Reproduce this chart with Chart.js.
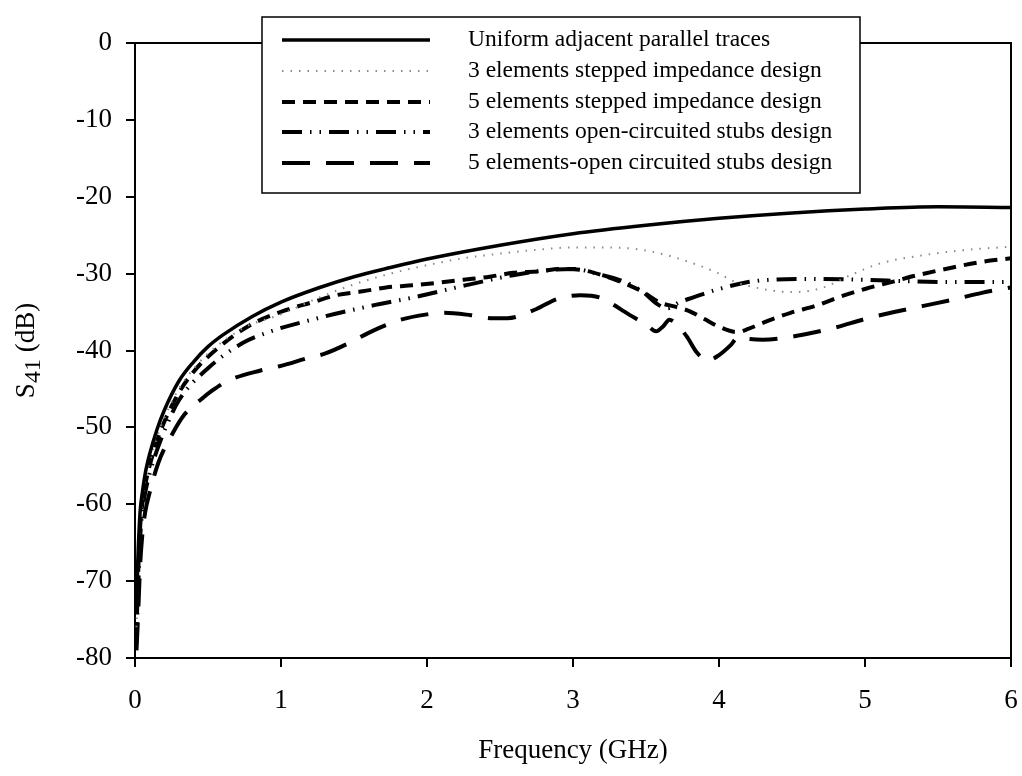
<!DOCTYPE html>
<html>
<head>
<meta charset="utf-8">
<script src="https://cdn.jsdelivr.net/npm/chart.js@4.4.0/dist/chart.umd.min.js"></script>
<style>
  html, body { margin: 0; padding: 0; background: #fff; }
  #wrap { width: 1022px; height: 776px; position: relative; }
</style>
</head>
<body>
<div id="wrap"><canvas id="s41Chart"></canvas></div>
<script>
// valeurs (GHz, dB)
const solidF = [0.01,0.02,0.035,0.05,0.07,0.1,0.15,0.2,0.3,0.4,0.5,0.6,0.8,1.0,1.25,1.5,1.75,2.0,2.5,3.0,3.5,4.0,4.5,5.0,5.5,6.0];
const solidS = [-74,-67,-61,-58.5,-56,-53.5,-50.3,-47.8,-44,-41.5,-39.5,-38,-35.6,-33.7,-31.9,-30.4,-29.2,-28.1,-26.3,-24.8,-23.7,-22.8,-22.1,-21.6,-21.3,-21.4];

const step3F = [0.01,0.02,0.035,0.05,0.07,0.1,0.15,0.2,0.3,0.4,0.5,0.75,1.0,1.25,1.5,1.75,2.0,2.25,2.5,2.75,3.0,3.25,3.5,3.75,4.0,4.1,4.3,4.5,4.7,4.9,5.1,5.4,5.7,6.0];
const step3S = [-76,-69,-62.5,-59.5,-57,-54.5,-51.3,-48.8,-45,-42.4,-40.4,-37,-35.3,-33.2,-31.4,-30,-28.9,-28,-27.4,-26.9,-26.6,-26.6,-27,-28.2,-30,-31,-32,-32.4,-31.9,-30.2,-28.7,-27.6,-26.9,-26.5];

const step5F = [0.01,0.02,0.035,0.05,0.07,0.1,0.15,0.2,0.3,0.4,0.5,0.77,1.04,1.22,1.38,1.56,1.72,1.9,2.07,2.25,2.43,2.59,2.77,2.91,3.05,3.2,3.37,3.48,3.6,3.7,3.8,3.9,4.0,4.12,4.2,4.3,4.49,4.66,4.83,5.0,5.2,5.36,5.6,5.79,6.0];
const step5S = [-77,-70,-63,-60,-57.5,-55,-51.8,-49.3,-45.5,-42.8,-40.8,-36.9,-34.7,-33.7,-32.8,-32.3,-31.8,-31.5,-31.2,-30.8,-30.4,-29.9,-29.7,-29.4,-29.5,-30.2,-31.4,-32.4,-33.8,-34.3,-34.9,-35.9,-36.9,-37.6,-37.2,-36.4,-35.1,-34.2,-33,-32,-31,-30.2,-29.2,-28.5,-28];

const stub3F = [0.01,0.02,0.035,0.05,0.07,0.1,0.15,0.2,0.3,0.5,0.74,0.9,1.25,1.59,1.93,2.27,2.59,2.8,3.0,3.2,3.37,3.48,3.58,3.65,3.72,3.79,3.9,4.0,4.2,4.35,4.6,5.0,5.3,5.6,6.0];
const stub3S = [-78,-72,-64.5,-61,-58.5,-56,-53,-50.5,-46.5,-42.3,-39,-37.7,-35.8,-34.3,-33,-31.5,-30.2,-29.6,-29.4,-30.2,-31.2,-32.4,-34,-34.5,-33.8,-33.3,-32.6,-32,-31.1,-30.8,-30.7,-30.8,-31,-31.1,-31.1];

const stub5F = [0.01,0.02,0.035,0.05,0.07,0.1,0.16,0.26,0.34,0.45,0.53,0.63,0.86,1.0,1.18,1.3,1.49,1.6,1.82,2.0,2.11,2.3,2.45,2.55,2.75,2.89,3.05,3.18,3.39,3.5,3.57,3.62,3.66,3.71,3.78,3.85,3.92,4.0,4.08,4.13,4.2,4.3,4.5,4.64,4.8,5.0,5.2,5.4,5.6,5.8,6.0];
const stub5S = [-79,-75,-68,-64,-61,-58.5,-54.6,-50.7,-48.3,-46.4,-45.2,-44,-42.6,-42,-41,-40.4,-38.8,-37.7,-36,-35.3,-35.1,-35.4,-35.8,-35.8,-34.6,-33.3,-32.8,-33.1,-35.4,-36.6,-37.5,-36.8,-36,-36.6,-38.2,-40.3,-41.3,-40.6,-39.3,-38.3,-38.5,-38.6,-38.2,-37.7,-37,-35.9,-35,-34.2,-33.4,-32.5,-31.8];

const seriesNames = [
  'Uniform adjacent parallel traces',
  '3 elements stepped impedance design',
  '5 elements stepped impedance design',
  '3 elements open-circuited stubs design',
  '5 elements-open circuited stubs design'
];

const xTicks = [0, 1, 2, 3, 4, 5, 6];
const yTicks = [0, -10, -20, -30, -40, -50, -60, -70, -80];

const FONT = "'Liberation Serif', 'Times New Roman', serif";

function toPoints(fs, ss) {
  return fs.map((f, i) => ({ x: f, y: ss[i] }));
}

function makeSet(label, fs, ss, color, width, dash) {
  return {
    label: label,
    data: toPoints(fs, ss),
    borderColor: color,
    borderWidth: width,
    borderDash: dash,
    borderCapStyle: 'butt',
    pointRadius: 0,
    fill: false,
    cubicInterpolationMode: 'monotone'
  };
}

const datasets = [
  makeSet(seriesNames[0], solidF, solidS, '#000', 3.5, []),
  makeSet(seriesNames[1], step3F, step3S, '#8a8a8a', 2, [1.5, 7]),
  makeSet(seriesNames[2], step5F, step5S, '#000', 4, [13, 8]),
  makeSet(seriesNames[3], stub3F, stub3S, '#000', 4, [20, 8, 1.5, 8, 1.5, 8]),
  makeSet(seriesNames[4], stub5F, stub5S, '#000', 4, [28, 16])
];

// cadre + légende + titre Y avec indice
const decorPlugin = {
  id: 'decor',
  afterDatasetsDraw(chart) {
    const c = chart.ctx;
    const a = chart.chartArea;
    c.save();
    c.strokeStyle = '#000';
    c.lineWidth = 2;
    c.beginPath();
    c.moveTo(a.left, a.top);
    c.lineTo(a.right, a.top);
    c.lineTo(a.right, a.bottom);
    c.stroke();
    c.restore();
  },
  afterDraw(chart) {
    const c = chart.ctx;
    const a = chart.chartArea;
    c.save();

    // légende
    const bx = 262, by = 17, bw = 598, bh = 176;
    c.fillStyle = '#fff';
    c.fillRect(bx, by, bw, bh);
    c.strokeStyle = '#000';
    c.lineWidth = 1.5;
    c.strokeRect(bx, by, bw, bh);
    const rows = [40, 71, 102, 132, 163];
    chart.data.datasets.forEach((ds, i) => {
      c.save();
      c.strokeStyle = ds.borderColor;
      c.lineWidth = ds.borderWidth;
      c.setLineDash(ds.borderDash);
      c.lineCap = 'butt';
      c.beginPath();
      c.moveTo(282, rows[i]);
      c.lineTo(430, rows[i]);
      c.stroke();
      c.restore();
      c.fillStyle = '#000';
      c.font = '23.5px ' + FONT;
      c.textBaseline = 'middle';
      c.textAlign = 'left';
      c.fillText(ds.label, 468, rows[i]);
    });

    // titre de l'axe Y : S41 (dB), 41 en indice
    const cx = 27, cy = (a.top + a.bottom) / 2;
    c.translate(cx, cy);
    c.rotate(-Math.PI / 2);
    c.fillStyle = '#000';
    c.textBaseline = 'middle';
    c.textAlign = 'left';
    const big = '27px ' + FONT, small = '24px ' + FONT;
    c.font = big;
    const wS = c.measureText('S').width;
    const wT = c.measureText(' (dB)').width;
    c.font = small;
    const wN = c.measureText('41').width;
    let x0 = -(wS + wN + wT) / 2;
    c.font = big;
    c.fillText('S', x0, 0);
    c.font = small;
    c.fillText('41', x0 + wS, 7);
    c.font = big;
    c.fillText(' (dB)', x0 + wS + wN, 0);
    c.restore();
  }
};

const ctx = document.getElementById('s41Chart').getContext('2d');
const s41Chart = new Chart(ctx, {
  type: 'line',
  data: { datasets: datasets },
  options: {
    responsive: true,
    maintainAspectRatio: false,
    animation: false,
    layout: { padding: { top: 43, right: 11, left: 0, bottom: 0 } },
    plugins: {
      legend: { display: false },
      tooltip: { enabled: false }
    },
    scales: {
      x: {
        type: 'linear',
        min: 0,
        max: 6,
        afterBuildTicks: (s) => { s.ticks = xTicks.map(v => ({ value: v })); },
        afterFit: (s) => { s.height = 118; s.paddingLeft = 0; s.paddingRight = 0; },
        ticks: { color: '#000', padding: 18, font: { family: FONT, size: 27 } },
        grid: { drawOnChartArea: false, drawTicks: true, tickLength: 9, color: '#000', lineWidth: 2 },
        border: { display: true, color: '#000', width: 2 },
        title: {
          display: true,
          text: 'Frequency (GHz)',
          color: '#000',
          font: { family: FONT, size: 27 },
          padding: { top: 0, bottom: 9 }
        }
      },
      y: {
        type: 'linear',
        min: -80,
        max: 0,
        afterBuildTicks: (s) => { s.ticks = yTicks.map(v => ({ value: v })); },
        afterFit: (s) => { s.width = 135; },
        ticks: { color: '#000', padding: 14, font: { family: FONT, size: 27 } },
        grid: { drawOnChartArea: false, drawTicks: true, tickLength: 9, color: '#000', lineWidth: 2 },
        border: { display: true, color: '#000', width: 2 }
      }
    }
  },
  plugins: [decorPlugin]
});
</script>
</body>
</html>
